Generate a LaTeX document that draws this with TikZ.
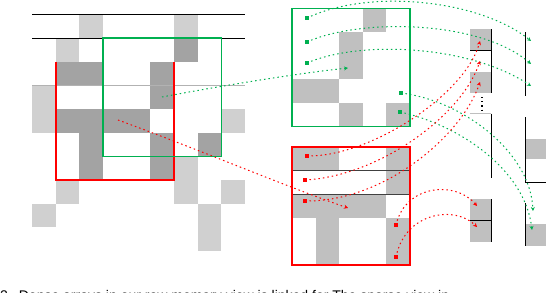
\documentclass[tikz,border=0pt]{standalone}
\usepackage{fontspec}
\setmainfont{Liberation Sans}
\usetikzlibrary{arrows.meta}
\definecolor{lgray}{RGB}{208,208,208}
\definecolor{dgray}{RGB}{163,163,163}
\definecolor{mgray}{RGB}{192,192,192}
\definecolor{gr}{RGB}{0,176,80}
\definecolor{rd}{RGB}{255,0,0}
\begin{document}
\begin{tikzpicture}[x=1pt,y=-1pt,
  gline/.style={gr,line width=1pt,dash pattern=on 1.5pt off 3pt,-{Stealth[length=4pt,width=4pt]}},
  rline/.style={rd,line width=1pt,dash pattern=on 1.5pt off 3pt,-{Stealth[length=4pt,width=4pt]}},
  blk/.style={black,line width=1pt},
  gbox/.style={gr,line width=1.5pt},
  rbox/.style={rd,line width=1.6pt}]
\useasboundingbox (0,0) rectangle (546,292);
\clip (0,0) rectangle (546,292);
% ---- left grid
\def\cs{23.67}
\foreach \cc/\rr in {2/0,6/0,1/1,0/3,0/4,8/4,6/6,1/7,6/7,8/7,0/8,7/8,7/9}
  \fill[lgray] ({32+\cc*\cs},{14.3+\rr*\cs}) rectangle ++(\cs,\cs);
\foreach \cc/\rr in {6/1,1/2,2/2,5/2,5/3,1/4,2/4,3/4,4/4,2/5,5/5,7/5,2/6,5/6}
  \fill[dgray] ({32+\cc*\cs},{14.3+\rr*\cs}) rectangle ++(\cs,\cs);
\draw[blk] (32,14.3) -- (245,14.3);
\draw[blk] (32,38) -- (245,38);
\draw[gray!60,line width=1pt] (32,85.5) -- (245,85.5);
\draw[rbox] (56,61.6) -- (56,180) -- (174,180) -- (174,61.6);
\draw[gbox] (103,38) rectangle (221.3,156.3);
% ---- right green matrix
\def\ct{23.6}
\foreach \cc/\rr in {3/0,2/1,2/2,0/3,1/3,2/4,4/4}
  \fill[mgray] ({292+\cc*\ct},{8.3+\rr*\ct}) rectangle ++(\ct,\ct);
\draw[gbox] (292,8.3) rectangle (410,126.3);
% ---- right red matrix
\foreach \cc/\rr in {0/0,1/0,4/0,4/1,0/2,1/2,2/2,3/2,1/3,1/4,4/3,4/4}
  \fill[mgray] ({292+\cc*\ct},{147+\rr*\ct}) rectangle ++(\ct,\ct);
\draw[black!75,line width=1pt] (292,170.6) -- (410,170.6);
\draw[black!75,line width=1pt] (292,194.2) -- (410,194.2);
\draw[rbox] (292,147) rectangle (410,265);
% ---- column A
\fill[mgray] (470,29) rectangle (491,50);
\fill[mgray] (470,72) rectangle (491,93);
\draw[blk] (470,50) -- (491,50);
\draw[blk] (491,29) -- (491,93);
\draw[black,line width=1.2pt,dash pattern=on 1.2pt off 3pt] (482,97) -- (482,113);
\draw[gray!50,line width=1pt] (470,113) -- (491,113);
\draw[blk] (491,113.5) -- (491,178);
\fill[mgray] (470,199) rectangle (491,242);
\draw[blk] (470,220) -- (491,220);
\draw[blk] (491,199) -- (491,242);
% ---- column B
\draw[blk] (525,32) -- (525,96);
\fill[mgray] (525,139) rectangle (546,159);
\draw[blk] (525,117) -- (525,182) -- (546,182);
\fill[mgray] (525,224) rectangle (546,246);
\draw[blk] (525,203) -- (525,246);
% ---- marker coordinates
\coordinate (L1) at (162,97);
\coordinate (L2) at (118,120);
\coordinate (G1) at (307,18);
\coordinate (G2) at (307,42);
\coordinate (G3) at (307,63);
\coordinate (G4) at (348,68);
\coordinate (G5) at (401,93);
\coordinate (G6) at (400,112);
\coordinate (R1) at (307,156);
\coordinate (R2) at (305,180);
\coordinate (R3) at (305,201);
\coordinate (R4) at (348,208);
\coordinate (R5) at (396,225);
\coordinate (R6) at (396,257);
\coordinate (A1) at (480,41);
\coordinate (A2) at (480,61);
\coordinate (A3) at (480,82);
\coordinate (A4) at (477,206);
\coordinate (A5) at (477,227);
\coordinate (B1) at (531,41);
\coordinate (B2) at (531,64);
\coordinate (B3) at (531,86);
\coordinate (B4) at (533,211);
\coordinate (B5) at (532,230);
\foreach \m in {G1,G2,G3,G5,G6} \fill[gr] (\m) ++(-2,-2) rectangle ++(4,4);
\foreach \m in {R1,R2,R3,R5,R6} \fill[rd] (\m) ++(-2,-2) rectangle ++(4,4);
% ---- connectors
\draw[gline] (L1) .. controls (220,86) and (300,73) .. (G4);
\draw[rline] (L2) .. controls (200,150) and (290,188) .. (R4);
\draw[gline] (G1) .. controls (370,-12) and (480,0) .. (B1);
\draw[gline] (G2) .. controls (360,18) and (480,20) .. (B2);
\draw[gline] (G3) .. controls (360,40) and (470,45) .. (B3);
\draw[gline] (G5) .. controls (460,100) and (530,150) .. (B4);
\draw[gline] (G6) .. controls (460,125) and (525,170) .. (B5);
\draw[rline] (R1) .. controls (370,157) and (465,95) .. (A1);
\draw[rline] (R2) .. controls (380,176) and (462,115) .. (A2);
\draw[rline] (R3) .. controls (385,202) and (462,135) .. (A3);
\draw[rline] (R5) .. controls (405,185) and (455,180) .. (A4);
\draw[rline] (R6) .. controls (405,212) and (455,205) .. (A5);
% ---- caption (cut by the lower edge, as in the reference)
\node[anchor=base west,inner sep=0pt,font=\fontsize{14}{16}\selectfont] (cap) at (0,300)
  {2.\hspace{7pt}Dense arrays in our row memory view is linked for The sparse view in};
\end{tikzpicture}
\end{document}
